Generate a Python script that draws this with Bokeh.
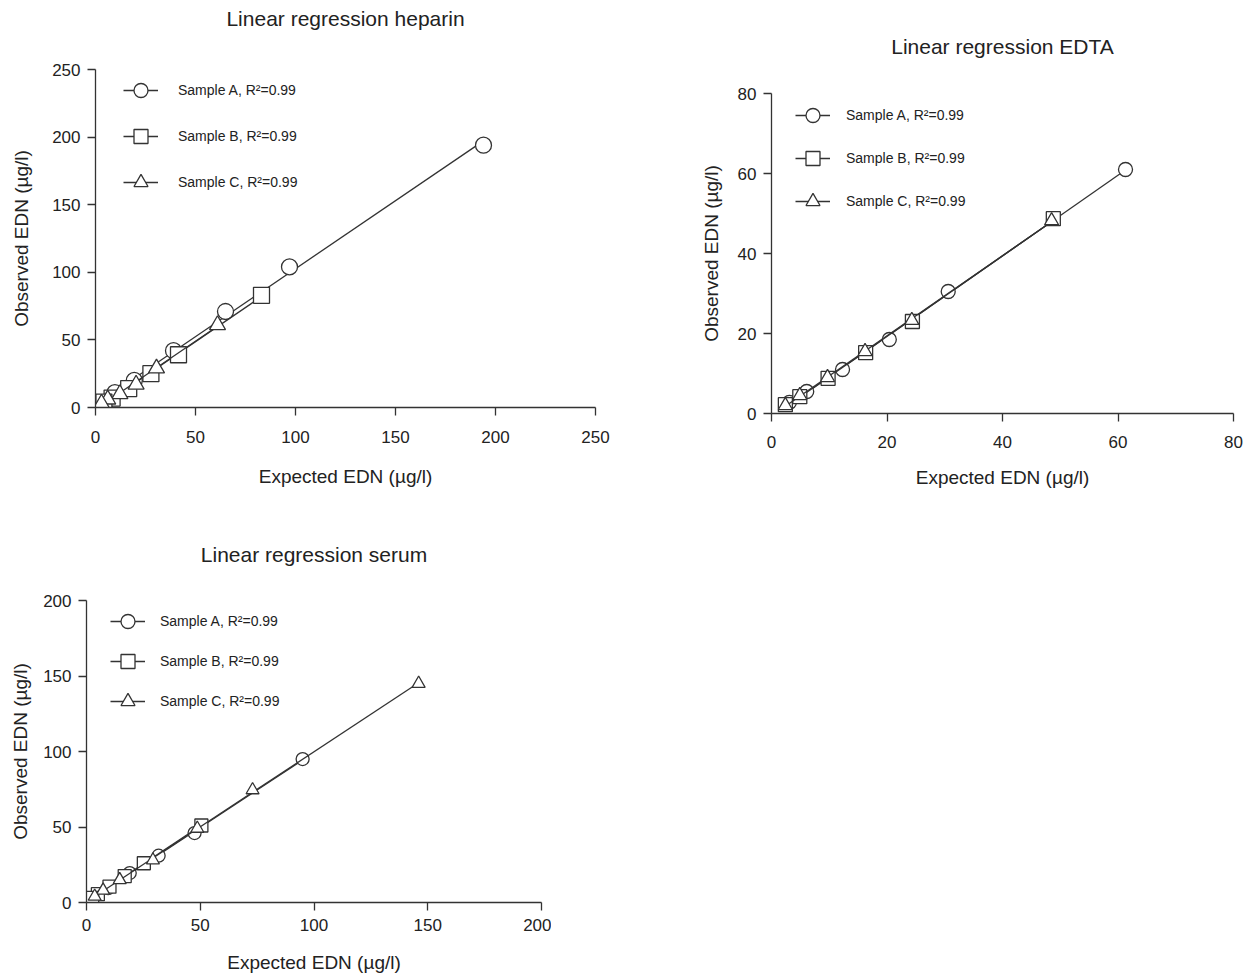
import numpy as np
from bokeh.plotting import figure
from bokeh.models import (Legend, LegendItem, Range1d, FixedTicker, Title,
                          LinearAxis, Spacer)
from bokeh.layouts import column, row
from bokeh.embed import file_html
from bokeh.resources import INLINE

# ---------------- data ----------------
hep_a_x = [194, 97, 65, 39, 19.4, 9.7, 4.9]
hep_a_y = [194, 104, 71, 42, 20, 11, 4]
hep_b_x = [83, 41.5, 27.7, 16.6, 8.3, 4.2]
hep_b_y = [83, 39, 25, 14, 7, 4]
hep_c_x = [61, 30.5, 20.3, 12.2, 6.1, 3.0]
hep_c_y = [61, 29, 17, 10, 6, 3]

edta_a_x = [61.3, 30.6, 20.4, 12.3, 6.1, 3.1]
edta_a_y = [61, 30.5, 18.5, 11, 5.5, 2.8]
edta_b_x = [48.8, 24.4, 16.3, 9.8, 4.9, 2.4]
edta_b_y = [48.7, 23, 15.2, 8.8, 4.2, 2.2]
edta_c_x = [48.5, 24.3, 16.2, 9.7, 4.9, 2.4]
edta_c_y = [48.2, 23.3, 15.5, 9, 4.5, 2]

ser_a_x = [95, 47.5, 31.7, 19, 9.5, 4.75]
ser_a_y = [95, 46, 31, 19.5, 9.5, 5.5]
ser_b_x = [50.5, 25.2, 16.8, 10.1, 5, 2.5]
ser_b_y = [51, 26, 17.5, 10.5, 5.5, 3]
ser_c_x = [146, 73, 48.7, 29.2, 14.6, 7.3, 3.6]
ser_c_y = [145, 74.5, 49, 28, 15, 8, 4]

labels = ["Sample A, R\u00b2=0.99", "Sample B, R\u00b2=0.99", "Sample C, R\u00b2=0.99"]
markers = ["circle", "square", "triangle"]

FONT = "Liberation Sans"
INK = "#333333"
TXT = "#222222"


def make_fig(title, xmax, ymax, xticks, yticks, fw, fh, left, right, top, bottom,
             series, msize, leg_xy, leg_spacing, leg_standoff, title_gap,
             ylab_standoff, xlab_standoff, xtick_standoff):
    p = figure(frame_width=fw, frame_height=fh,
               x_range=Range1d(0, xmax), y_range=Range1d(0, ymax),
               output_backend="svg", toolbar_location=None,
               min_border_left=left, min_border_right=right,
               min_border_top=top, min_border_bottom=bottom)
    p.grid.visible = False
    p.outline_line_color = None
    p.background_fill_color = "white"
    p.border_fill_color = "white"

    for ax, ticks in ((p.xaxis[0], xticks), (p.yaxis[0], yticks)):
        ax.ticker = FixedTicker(ticks=ticks)
        ax.axis_line_color = INK
        ax.axis_line_width = 1.3
        ax.major_tick_line_color = INK
        ax.major_tick_line_width = 1.3
        ax.major_tick_out = 8
        ax.major_tick_in = 0
        ax.minor_tick_line_color = None
        ax.major_label_text_font = FONT
        ax.major_label_text_font_size = "17px"
        ax.major_label_text_color = TXT
        ax.axis_label_text_font = FONT
        ax.axis_label_text_font_size = "19px"
        ax.axis_label_text_font_style = "normal"
        ax.axis_label_text_color = TXT
    p.xaxis.axis_label = "Expected EDN (\u00b5g/l)"
    p.yaxis.axis_label = "Observed EDN (\u00b5g/l)"
    p.xaxis.major_label_standoff = xtick_standoff
    p.yaxis.major_label_standoff = 7
    p.xaxis.axis_label_standoff = xlab_standoff
    p.yaxis.axis_label_standoff = ylab_standoff

    # blank spacer axis between the frame and the title (white, unlabeled)
    mid = xmax / 2
    gap = LinearAxis(ticker=FixedTicker(ticks=[mid]), axis_line_color=None,
                     major_tick_line_color="white", major_tick_line_width=1,
                     minor_tick_line_color=None,
                     major_tick_out=title_gap, major_tick_in=0, minor_tick_out=0,
                     major_label_standoff=0, major_label_text_font_size="1px",
                     major_label_text_color="white",
                     major_label_overrides={mid: ""})
    p.add_layout(gap, "above")
    p.add_layout(Title(text=title, align="center", standoff=0,
                       text_font=FONT, text_font_size="21px",
                       text_font_style="normal", text_color=TXT), "above")

    items = []
    for (xs, ys), mk, lab in zip(series, markers, labels):
        xs = np.asarray(xs, dtype=float)
        ys = np.asarray(ys, dtype=float)
        k, b = np.polyfit(xs, ys, 1)
        lx = [xs.min(), xs.max()]
        ly = [k * lx[0] + b, k * lx[1] + b]
        r_line = p.line(lx, ly, line_color=INK, line_width=1.3)
        r_pts = p.scatter(xs, ys, marker=mk, size=msize, fill_color="white",
                          line_color=INK, line_width=1.3)
        items.append(LegendItem(label=lab, renderers=[r_line, r_pts]))

    leg = Legend(items=items, location=leg_xy, orientation="vertical",
                 border_line_color=None, background_fill_alpha=0,
                 padding=0, margin=0, spacing=leg_spacing,
                 glyph_width=35, glyph_height=40, label_standoff=leg_standoff,
                 label_text_font=FONT, label_text_font_size="14px",
                 label_text_color=TXT)
    p.add_layout(leg, "center")
    return p


p1 = make_fig("Linear regression heparin", 250, 250, [0, 50, 100, 150, 200, 250],
              [0, 50, 100, 150, 200, 250], 500, 338, 95, 45, 69, 92,
              [(hep_a_x, hep_a_y), (hep_b_x, hep_b_y), (hep_c_x, hep_c_y)],
              16, (28, 205), 6, 20, 40, 17, 20, 15)
p2 = make_fig("Linear regression EDTA", 80, 80, [0, 20, 40, 60, 80],
              [0, 20, 40, 60, 80], 462, 320, 131, 27, 69, 92,
              [(edta_a_x, edta_a_y), (edta_b_x, edta_b_y), (edta_c_x, edta_c_y)],
              14, (24, 192), 3, 16, 36, 13, 16, 14)
p3 = make_fig("Linear regression serum", 200, 200, [0, 50, 100, 150, 200],
              [0, 50, 100, 150, 200], 455, 302, 86, 10, 95, 73,
              [(ser_a_x, ser_a_y), (ser_b_x, ser_b_y), (ser_c_x, ser_c_y)],
              13, (24, 181), 0, 15, 35, 9, 18, 8)

layout = column(row(p1, column(Spacer(width=620, height=24), p2)), row(p3))
open("out.html", "w").write(file_html(layout, INLINE))
